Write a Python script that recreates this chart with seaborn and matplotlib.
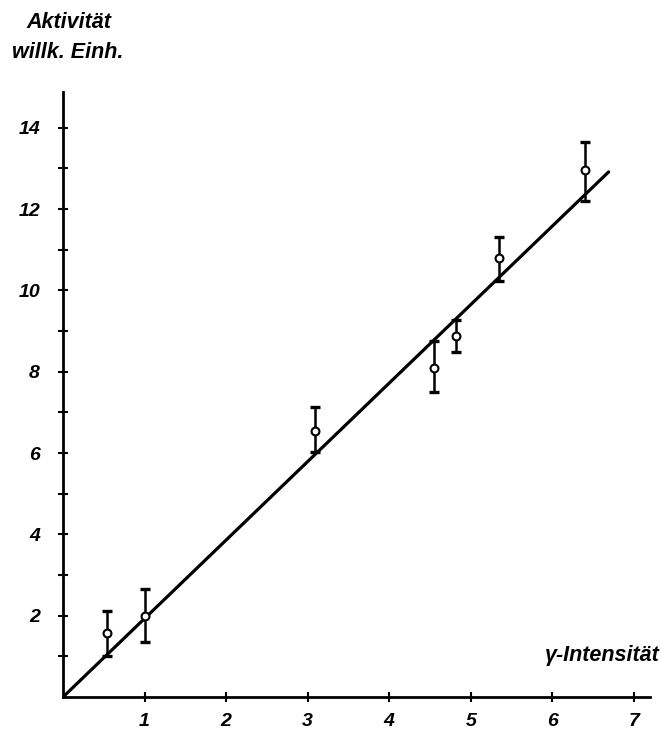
import numpy as np
import pandas as pd
import matplotlib
matplotlib.use('Agg')
import matplotlib.pyplot as plt
import seaborn as sns

# values
intensity = [0.54, 1.01, 3.09, 4.55, 4.82, 5.35, 6.40]
activity = [1.57, 1.99, 6.54, 8.08, 8.87, 10.79, 12.97]
act_low = [1.01, 1.35, 6.02, 7.49, 8.48, 10.22, 12.19]
act_high = [2.11, 2.65, 7.13, 8.75, 9.26, 11.30, 13.64]
fit_x = [0.0, 6.69]
fit_slope = 1.93

xticks = [1, 2, 3, 4, 5, 6, 7]
yticks = [2, 4, 6, 8, 10, 12, 14]

df = pd.DataFrame({'x': intensity, 'y': activity})
fit = pd.DataFrame({'x': fit_x, 'y': [v * fit_slope for v in fit_x]})

sns.set_style('ticks')
plt.rcParams['font.family'] = ['Liberation Sans', 'DejaVu Sans']
plt.rcParams['text.color'] = 'black'

fig = plt.figure(figsize=(6.62, 7.33), dpi=100)
ax = fig.add_axes([0.0952, 0.0491, 0.887, 0.825])

sns.lineplot(x='x', y='y', data=fit, ax=ax, color='black', lw=2.3)

yerr = np.array([np.array(activity) - np.array(act_low),
                 np.array(act_high) - np.array(activity)])
ax.errorbar(intensity, activity, yerr=yerr, fmt='none', ecolor='black',
            elinewidth=1.8, capsize=3.5, capthick=2.4, zorder=3)
sns.scatterplot(x='x', y='y', data=df, ax=ax, s=32, marker='o',
                facecolor='white', edgecolor='black', linewidth=1.5, zorder=4)

ax.set_xlim(0, 7.2)
ax.set_ylim(0, 14.87)
ax.set_xticks(xticks)
ax.set_yticks(yticks)
ax.set_yticks(range(1, 15), minor=True)
ax.set_xticklabels([str(t) for t in xticks], style='italic', weight='bold',
                   fontsize=14, color='black')
ax.set_yticklabels([str(t) for t in yticks], style='italic', weight='bold',
                   fontsize=14, color='black')
ax.tick_params(axis='both', which='both', direction='inout', length=7,
               width=1.5, color='black')
ax.tick_params(axis='x', pad=8)
ax.tick_params(axis='y', pad=13)
ax.set_xlabel('')
ax.set_ylabel('')
for s in ['top', 'right']:
    ax.spines[s].set_visible(False)
for s in ['left', 'bottom']:
    ax.spines[s].set_linewidth(2)
    ax.spines[s].set_color('black')

fig.text(0.104, 0.969, 'Aktivität', ha='center', va='center',
         fontsize=15.5, style='italic', weight='bold', color='black')
fig.text(0.103, 0.929, 'willk. Einh.', ha='center', va='center',
         fontsize=15.5, style='italic', weight='bold', color='black')
fig.text(0.997, 0.106, 'γ-Intensität', ha='right', va='center',
         fontsize=15.5, style='italic', weight='bold', color='black')

fig.savefig('out.png', dpi=100)
